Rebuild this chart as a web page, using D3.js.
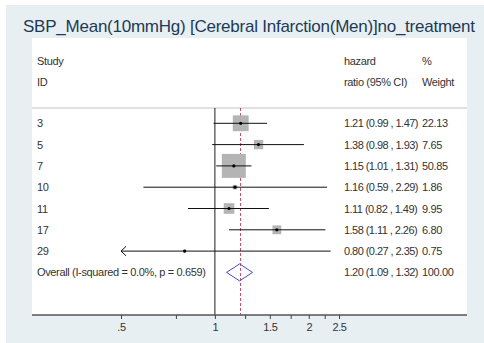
<!DOCTYPE html>
<html>
<head>
<meta charset="utf-8">
<script src="https://cdn.jsdelivr.net/npm/d3@7"></script>
<style>
  html, body { margin: 0; padding: 0; background: #ffffff; }
  svg { display: block; }
  text { font-family: "Liberation Sans", Arial, sans-serif; }
</style>
</head>
<body>
<svg id="chart" width="484" height="343"></svg>
<script>
// Study rows
const studyIds = ["3", "5", "7", "10", "11", "17", "29"];
const hazardRatios = [1.21, 1.38, 1.15, 1.16, 1.11, 1.58, 0.80];
const ciLower = [0.99, 0.98, 1.01, 0.59, 0.82, 1.11, 0.27];
const ciUpper = [1.47, 1.93, 1.31, 2.29, 1.49, 2.26, 2.35];
const weights = [22.13, 7.65, 50.85, 1.86, 9.95, 6.80, 0.75];

// Pooled estimate
const overallLabel = "Overall  (I-squared = 0.0%, p = 0.659)";
const overallHR = 1.20;
const overallLower = 1.09;
const overallUpper = 1.32;
const overallWeight = 100.00;

// Axis ticks
const majorTicks = [0.5, 1, 1.5, 2, 2.5];
const majorTickLabels = [".5", "1", "1.5", "2", "2.5"];
const minorTicks = [0.75, 1.25, 1.75, 2.25];

const titleText = "SBP_Mean(10mmHg) [Cerebral Infarction(Men)]no_treatment";

const svg = d3.select("#chart");
const W = 484, H = 343;

// Layout
const panel = { left: 32, right: 467, top: 38, bottom: 315 };
const headerLineY = 108;
const firstRowY = 123.3;
const rowStep = 21.3;
const labelX = 37;
const ciTextX = 344;
const weightX = 422;

const x = d3.scaleLog().domain([0.5, 2.5]).range([121, 339]);
const nRows = studyIds.length + 1;
const y = d3.scaleLinear().domain([0, nRows - 1]).range([firstRowY, firstRowY + rowStep * (nRows - 1)]);
const boxSide = d3.scaleSqrt().domain([0, d3.max(weights)]).range([0, 24]);

// Backgrounds
svg.append("rect").attr("x", 6).attr("y", 5).attr("width", W - 6).attr("height", H - 5).attr("fill", "#e8eff2");
svg.append("rect").attr("x", panel.left).attr("y", panel.top)
  .attr("width", panel.right - panel.left).attr("height", panel.bottom - panel.top).attr("fill", "#ffffff");

// Title, tightened so it spans 452px
const title = svg.append("text").attr("x", 23).attr("y", 32)
  .attr("font-size", 17).attr("fill", "#1d3a56").text(titleText);
{
  const natural = title.node().getComputedTextLength();
  const spacing = (452 - natural) / (titleText.length - 1);
  title.attr("letter-spacing", spacing.toFixed(3) + "px");
}

const textColor = "#333333";
const fs = 11;
const ls = "-0.35px";
const ciLs = "-0.55px";

function addText(tx, ty, str, spacing) {
  return svg.append("text").attr("x", tx).attr("y", ty)
    .attr("font-size", fs).attr("letter-spacing", spacing || ls)
    .attr("fill", textColor).text(str);
}

// Column headers
addText(labelX, 65, "Study");
addText(labelX, 86, "ID");
addText(ciTextX, 65, "hazard");
addText(ciTextX, 86, "ratio (95% CI)");
addText(weightX, 65, "%");
addText(weightX, 86, "Weight");

svg.append("line").attr("x1", panel.left).attr("x2", panel.right)
  .attr("y1", headerLineY).attr("y2", headerLineY)
  .attr("stroke", "#d6d6d6").attr("stroke-width", 1.5);

// Null line at HR = 1
svg.append("line").attr("x1", x(1)).attr("x2", x(1))
  .attr("y1", headerLineY).attr("y2", panel.bottom)
  .attr("stroke", "#333333").attr("stroke-width", 1.1);

// Pooled estimate reference line
const px = Math.round(x(overallHR)) + 0.5;
svg.append("line").attr("x1", px).attr("x2", px)
  .attr("y1", headerLineY).attr("y2", panel.bottom)
  .attr("stroke", "#c8506a").attr("stroke-width", 1).attr("stroke-dasharray", "3,2");

const rows = studyIds.map((id, i) => ({
  id, hr: hazardRatios[i], lo: ciLower[i], hi: ciUpper[i], w: weights[i], i
}));

const xMin = x.domain()[0], xMax = x.domain()[1];
const fmt2 = d3.format(".2f");

const g = svg.append("g");
rows.forEach(d => {
  const cy = y(d.i);
  const s = boxSide(d.w);
  g.append("rect").attr("x", x(d.hr) - s / 2).attr("y", cy - s / 2)
    .attr("width", s).attr("height", s).attr("fill", "#b4b4b4");
  const lo = Math.max(d.lo, xMin), hi = Math.min(d.hi, xMax);
  g.append("line").attr("x1", x(lo)).attr("x2", x(hi)).attr("y1", cy).attr("y2", cy)
    .attr("stroke", "#111").attr("stroke-width", 1);
  if (d.lo < xMin) {
    const ax = x(xMin);
    g.append("path").attr("d", `M${ax + 5},${cy - 4.7} L${ax},${cy} L${ax + 5},${cy + 4.7}`)
      .attr("fill", "none").attr("stroke", "#111").attr("stroke-width", 1);
  }
  if (d.hi > xMax) {
    const ax = x(xMax);
    g.append("path").attr("d", `M${ax - 5},${cy - 4.7} L${ax},${cy} L${ax - 5},${cy + 4.7}`)
      .attr("fill", "none").attr("stroke", "#111").attr("stroke-width", 1);
  }
  g.append("circle").attr("cx", x(d.hr)).attr("cy", cy).attr("r", 1.6).attr("fill", "#000");

  addText(labelX, cy + 4, d.id);
  addText(ciTextX, cy + 4, `${fmt2(d.hr)} (${fmt2(d.lo)} , ${fmt2(d.hi)})`, ciLs);
  addText(weightX, cy + 4, fmt2(d.w));
});

// Pooled diamond
const oy = y(studyIds.length);
const dh = 8.5;
svg.append("path")
  .attr("d", `M${x(overallLower)},${oy} L${x(overallHR)},${oy - dh} L${x(overallUpper)},${oy} L${x(overallHR)},${oy + dh} Z`)
  .attr("fill", "none").attr("stroke", "#4a4ac0").attr("stroke-width", 1);
addText(labelX, oy + 4, overallLabel);
addText(ciTextX, oy + 4, `${fmt2(overallHR)} (${fmt2(overallLower)} , ${fmt2(overallUpper)})`, ciLs);
addText(weightX, oy + 4, fmt2(overallWeight));

// X axis
svg.append("line").attr("x1", panel.left).attr("x2", panel.right)
  .attr("y1", panel.bottom).attr("y2", panel.bottom)
  .attr("stroke", "#555555").attr("stroke-width", 1.3);

const axisG = svg.append("g").attr("transform", `translate(0,${panel.bottom})`);
const allTicks = majorTicks.concat(minorTicks);
axisG.call(d3.axisBottom(x).tickValues(allTicks)
  .tickFormat(v => { const k = majorTicks.indexOf(v); return k >= 0 ? majorTickLabels[k] : ""; })
  .tickSize(4).tickSizeOuter(0).tickPadding(4));
axisG.select(".domain").remove();
axisG.selectAll(".tick line").attr("stroke", "#444").attr("stroke-width", 1);
axisG.selectAll(".tick text").attr("font-size", 11).attr("letter-spacing", ls)
  .attr("fill", textColor).attr("font-family", "Liberation Sans, Arial, sans-serif");
</script>
</body>
</html>
